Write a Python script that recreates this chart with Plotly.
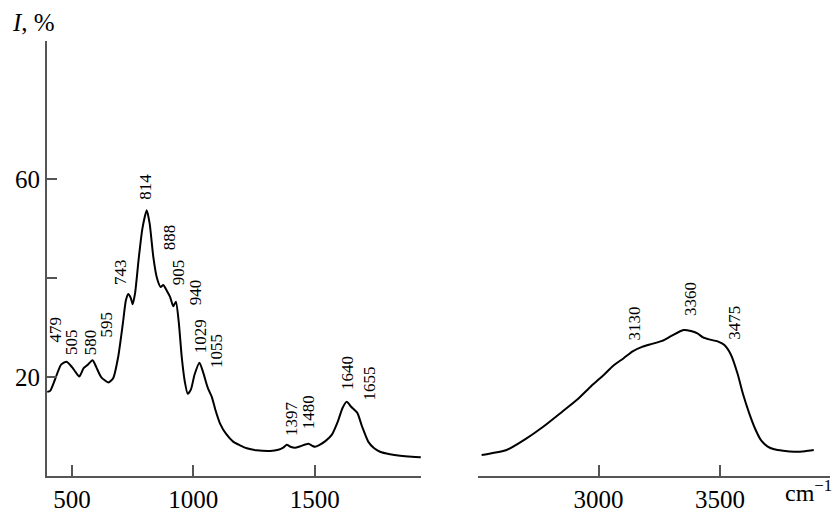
import plotly.graph_objects as go

# Left panel spectrum (cm^-1, I %)
left_x = [398, 410, 430, 455, 478, 500, 515, 530, 548, 565, 585, 600, 620, 650, 670, 690,
          710, 722, 732, 742, 750, 760, 775, 790, 808, 820, 835, 850, 865, 876, 890, 904,
          917, 928, 940, 952, 965, 977, 990, 1005, 1025, 1040, 1055, 1062, 1076, 1090, 1110,
          1135, 1165, 1192, 1220, 1260, 1316, 1350, 1372, 1385, 1400, 1419, 1440, 1474, 1490,
          1501, 1520, 1545, 1570, 1595, 1615, 1632, 1650, 1675, 1695, 1721, 1745, 1769, 1810,
          1852, 1900, 1937]
left_y = [17.0, 17.2, 19.5, 22.5, 23.1, 22.0, 21.0, 20.1, 21.8, 22.5, 23.4, 22.0, 20.0, 18.9, 19.8, 24.0,
          31.0, 35.5, 36.8, 36.0, 34.7, 37.0, 44.0, 50.0, 53.7, 51.0, 44.3, 40.0, 38.2, 38.6, 37.5, 36.2,
          34.3, 35.2, 31.0, 24.1, 19.0, 16.6, 17.5, 20.5, 22.9, 21.0, 18.5, 17.5, 16.0, 13.5, 10.6,
          8.5, 6.9, 6.2, 5.6, 5.2, 5.05, 5.3, 5.8, 6.3, 5.9, 5.7, 6.0, 6.5, 6.1,
          5.9, 6.3, 7.1, 8.3, 11.0, 13.8, 15.0, 14.0, 12.8, 10.0, 6.9, 5.6, 4.9, 4.4,
          4.1, 3.9, 3.8]

# Right panel spectrum
right_x = [2518, 2560, 2621, 2700, 2773, 2850, 2911, 2970, 3021, 3060, 3103, 3140, 3179, 3220,
           3262, 3300, 3349, 3380, 3407, 3430, 3455, 3490, 3517, 3545, 3572, 3595, 3620, 3645,
           3668, 3695, 3723, 3760, 3806, 3850, 3886]
right_y = [4.24, 4.6, 5.25, 7.5, 10.0, 13.0, 15.4, 18.2, 20.4, 22.3, 23.8, 25.2, 26.1, 26.7,
           27.3, 28.3, 29.5, 29.3, 28.8, 28.0, 27.6, 27.2, 26.5, 24.5, 20.7, 16.5, 12.7, 9.5,
           7.3, 6.0, 5.4, 5.1, 4.9, 5.0, 5.25]

# Peak labels
left_labels = ["479", "505", "580", "595", "743", "814", "888", "905", "940",
               "1029", "1055", "1397", "1480", "1640", "1655"]
right_labels = ["3130", "3360", "3475"]

# label anchor positions (bottom of rotated text)
left_label_x = [433, 495, 574, 643, 702, 804, 901, 942, 1007, 1027, 1093, 1405, 1478, 1638, 1725]
left_label_y = [26.5, 24.0, 24.0, 27.5, 38.2, 55.4, 45.3, 38.2, 34.1, 24.4, 21.4, 7.7, 9.1, 17.0, 14.9]
right_label_x = [3148, 3376, 3561]
right_label_y = [26.9, 31.9, 27.1]

FONT = "Liberation Serif"
AX = "#555555"

W, H = 837, 512
L, R, T, B = 47, 7, 41, 36
pw, ph = W - L - R, H - T - B

def px_x(p):
    return (p - L) / pw

def px_y(p):
    return (H - B - p) / ph

fig = go.Figure()
fig.add_trace(go.Scatter(x=left_x, y=left_y, mode="lines",
                         line=dict(color="black", width=2, shape="spline", smoothing=0.6),
                         xaxis="x", yaxis="y", showlegend=False, hoverinfo="skip"))
fig.add_trace(go.Scatter(x=right_x, y=right_y, mode="lines",
                         line=dict(color="black", width=2, shape="spline", smoothing=0.6),
                         xaxis="x2", yaxis="y", showlegend=False, hoverinfo="skip"))

ann = []
for t, x, y in zip(left_labels, left_label_x, left_label_y):
    ann.append(dict(text=t, x=x, y=y, xref="x", yref="y", textangle=-90, showarrow=False,
                    xanchor="center", yanchor="bottom", font=dict(family=FONT, size=17, color="black")))
for t, x, y in zip(right_labels, right_label_x, right_label_y):
    ann.append(dict(text=t, x=x, y=y, xref="x2", yref="y", textangle=-90, showarrow=False,
                    xanchor="center", yanchor="bottom", font=dict(family=FONT, size=17, color="black")))
ann.append(dict(text="<i>I</i>, %", x=px_x(10), y=px_y(7), xref="paper", yref="paper", showarrow=False,
                xanchor="left", yanchor="top", font=dict(family=FONT, size=25, color="black")))
ann.append(dict(text="cm<sup>−1</sup>", x=px_x(783), y=px_y(508), xref="paper", yref="paper",
                showarrow=False, xanchor="left", yanchor="bottom",
                font=dict(family=FONT, size=24, color="black")))

axis_common = dict(showline=True, linecolor=AX, linewidth=2, ticks="inside", tickwidth=1.5,
                   tickcolor=AX, showgrid=False, zeroline=False, automargin=False,
                   tickfont=dict(family=FONT, size=25, color="black"))

fig.update_layout(
    template="none",
    width=W, height=H,
    margin=dict(l=L, r=R, t=T, b=B, pad=0),
    paper_bgcolor="white", plot_bgcolor="white",
    font=dict(family=FONT, size=24, color="black"),
    xaxis=dict(domain=[0, 0.4777], range=[397, 1938], ticklen=11, tickvals=[500, 1000, 1500],
               **axis_common),
    xaxis2=dict(domain=[0.5504, 1], range=[2503, 3953], ticklen=11, tickvals=[3000, 3500],
                anchor="y", **axis_common),
    yaxis=dict(range=[0, 87.9], ticklen=10, tickvals=[20, 40, 60], ticktext=["20", " ", "60"],
               **axis_common),
    annotations=ann,
)

fig.write_html("out.html", config={"displayModeBar": False},
               post_script="document.body.style.margin='0';document.body.style.overflow='hidden';")
